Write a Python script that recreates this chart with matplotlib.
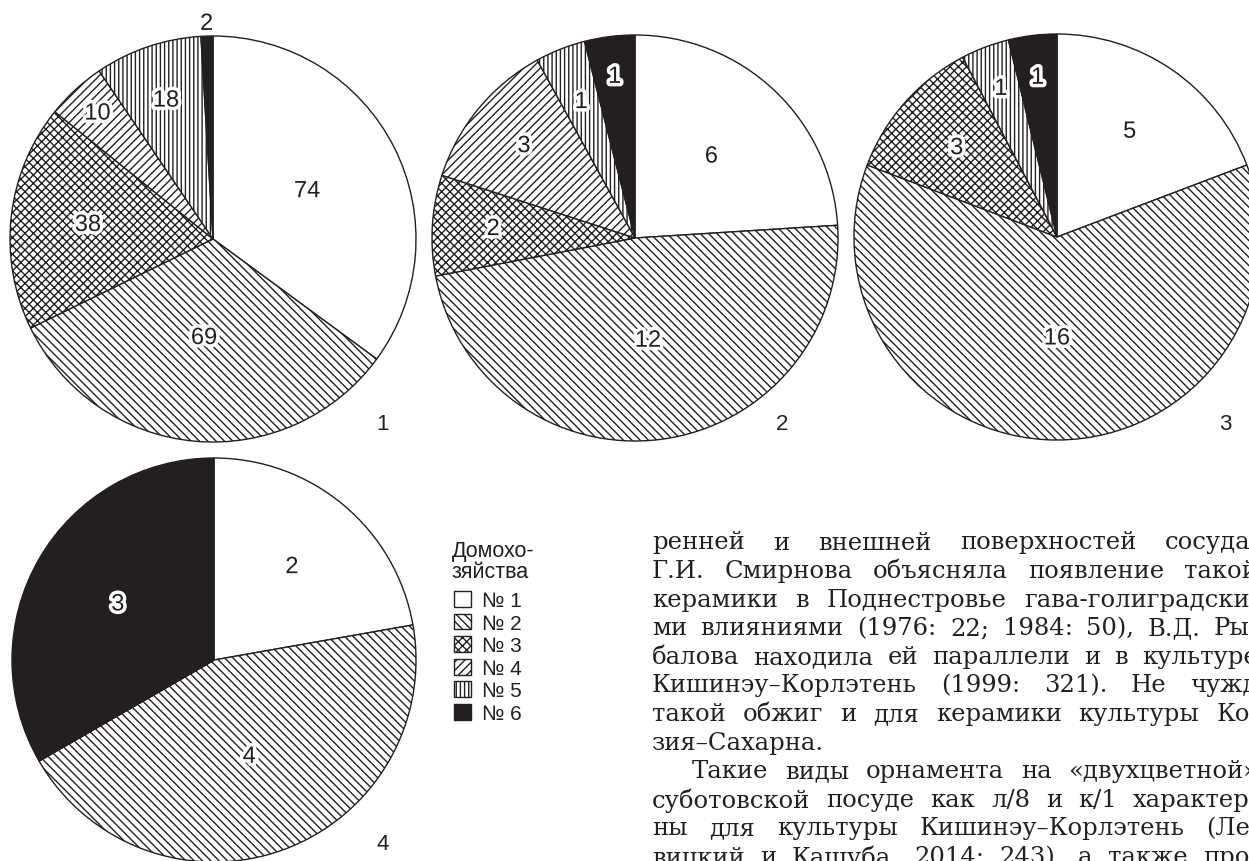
import numpy as np
import matplotlib
matplotlib.use('Agg')
import matplotlib.pyplot as plt
import matplotlib.patheffects as pe

plt.rcParams['font.family'] = ['Liberation Sans', 'DejaVu Sans']
plt.rcParams['hatch.linewidth'] = 1.0

W, H = 1249, 862
INK = '#231f20'

# counts of vessels per household, order: No 1 .. No 6
households = ['№ 1', '№ 2', '№ 3', '№ 4', '№ 5', '№ 6']
site_1 = [74, 69, 38, 10, 18, 2]
site_2 = [6, 12, 2, 3, 1, 1]
site_3 = [5, 16, 3, 0, 1, 1]
site_4 = [2, 4, 0, 0, 0, 3]
site_tags = ['1', '2', '3', '4']

fills = ['white', 'white', 'white', 'white', 'white', INK]
hatches = ['', '\\\\\\\\', 'xxxx', '////', '||||', '']

body_lines = [
    'ренней и внешней поверхностей сосуда.',
    'Г.И. Смирнова объясняла появление такой',
    'керамики в Поднестровье гава-голиградски-',
    'ми влияниями (1976: 22; 1984: 50), В.Д. Ры-',
    'балова находила ей параллели и в культуре',
    'Кишинэу–Корлэтень (1999: 321). Не чужд',
    'такой обжиг и для керамики культуры Ко-',
    'зия–Сахарна.',
    'Такие виды орнамента на «двухцветной»',
    'суботовской посуде как л/8 и к/1 характер-',
    'ны для культуры Кишинэу–Корлэтень (Ле-',
    'вицкий и Кашуба, 2014: 243), а также про-',
]
para_end = [7]
para_start = [8]

fig = plt.figure(figsize=(W / 100, H / 100), dpi=100)
fig.patch.set_facecolor('white')


def draw_pie(values, cx, cy, r, label_r, tag, tag_xy):
    pad = 1.03
    ax = fig.add_axes([(cx - r * pad) / W, (H - cy - r * pad) / H,
                       2 * r * pad / W, 2 * r * pad / H])
    wedges, _ = ax.pie(values, colors=fills, startangle=90, counterclock=False,
                       wedgeprops=dict(edgecolor=INK, linewidth=1.0))
    for w, h in zip(wedges, hatches):
        w.set_hatch(h)
    ax.set_xlim(-pad, pad)
    ax.set_ylim(-pad, pad)
    ax.patch.set_visible(False)
    for v, w, rf in zip(values, wedges, label_r):
        if v == 0:
            continue
        mid = np.deg2rad((w.theta1 + w.theta2) / 2)
        ax.text(rf * np.cos(mid), rf * np.sin(mid), str(v), ha='center', va='center',
                fontsize=17, color=INK,
                path_effects=[pe.withStroke(linewidth=5, foreground='white')])
    fig.text(tag_xy[0] / W, 1 - tag_xy[1] / H, tag, ha='center', va='center',
             fontsize=16, color=INK)
    return wedges


w1 = draw_pie(site_1, 213, 240, 203, [0.52, 0.49, 0.62, 0.84, 0.72, 1.06],
              site_tags[0], (383, 425))
draw_pie(site_2, 635, 239, 203, [0.55, 0.51, 0.70, 0.71, 0.72, 0.80],
         site_tags[1], (782, 425))
draw_pie(site_3, 1057, 238, 203, [0.63, 0.50, 0.66, 0.7, 0.78, 0.79],
         site_tags[2], (1225, 425))
draw_pie(site_4, 214, 661, 202, [0.60, 0.51, 0.6, 0.6, 0.6, 0.55],
         site_tags[3], (383, 845))

# legend: heading + one hatched box per household
fig.text(452 / W, 1 - 541 / H, 'Домохо-\nзяйства', ha='left', va='top', fontsize=15.5,
         color=INK, linespacing=1.0)
leg = fig.legend(w1, households, loc='upper left', bbox_to_anchor=(454 / W, 1 - 592 / H),
                 frameon=False, fontsize=15,
                 handlelength=0.8, handleheight=0.8, handletextpad=0.55, labelspacing=0.16,
                 borderpad=0, borderaxespad=0)
for t in leg.get_texts():
    t.set_color(INK)

# justified body text next to the legend
renderer = fig.canvas.get_renderer()
x_left, x_right = 652, 1258
top, step = 543, 28.6
indent = 40
for i, line in enumerate(body_lines):
    y = 1 - (top + i * step) / H
    words = line.split()
    arts = [fig.text(0, y, wd, fontsize=17.5, family='DejaVu Serif', color=INK,
                     ha='left', va='center') for wd in words]
    widths = [a.get_window_extent(renderer).width for a in arts]
    x0 = x_left + (indent if i in para_start else 0)
    if i in para_end or len(words) == 1:
        gap = 7
    else:
        gap = max(4, (x_right - x0 - sum(widths)) / (len(words) - 1))
    x = x0
    for a, wdt in zip(arts, widths):
        a.set_x(x / W)
        x += wdt + gap

fig.savefig('out.png', dpi=100)
